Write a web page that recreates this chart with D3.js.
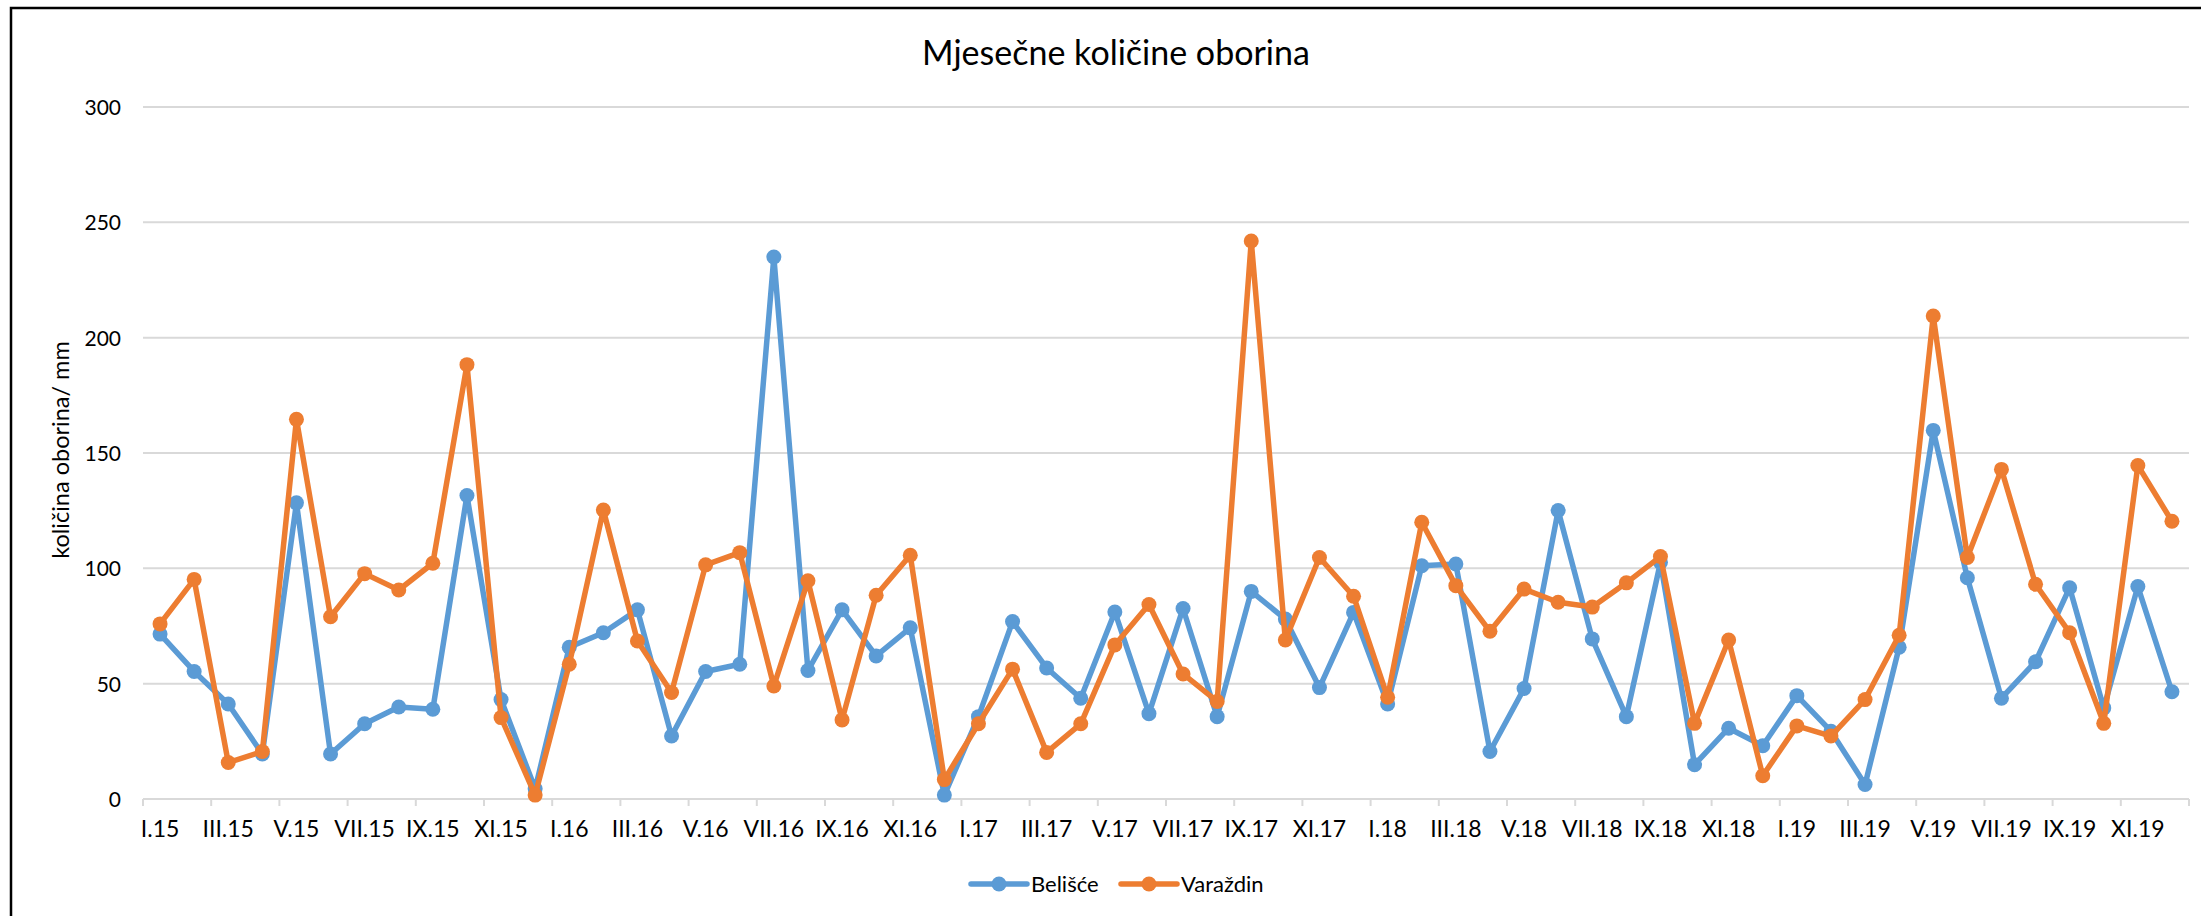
<!DOCTYPE html>
<html>
<head>
<meta charset="utf-8">
<script src="https://cdn.jsdelivr.net/npm/d3@7"></script>
<style>
  body { margin: 0; background: #fff; }
  text { font-family: Lato, "Open Sans", sans-serif; fill: #000; }
</style>
</head>
<body>
<div id="chart"></div>
<script>
// months I.15 .. XII.19
const romans = ["I", "II", "III", "IV", "V", "VI", "VII", "VIII", "IX", "X", "XI", "XII"];
const years = ["15", "16", "17", "18", "19"];
const months = [];
years.forEach(y => romans.forEach(r => months.push(r + "." + y)));

// monthly precipitation (mm)
const belisce = [
  71.5, 55.3, 41.2, 19.5, 128.4, 19.5, 32.6, 39.9, 38.9, 131.6, 43.1, 4.4,
  65.8, 72.1, 82.0, 27.3, 55.3, 58.4, 235.0, 55.7, 82.0, 62.0, 74.2, 1.7,
  35.7, 76.9, 56.8, 43.7, 81.1, 37.0, 82.6, 35.7, 90.0, 78.0, 48.3, 80.9,
  41.2, 101.1, 101.9, 20.6, 47.9, 125.1, 69.4, 35.7, 102.6, 14.9, 30.7, 23.1,
  44.8, 29.4, 6.3, 65.8, 159.8, 95.9, 43.7, 59.5, 91.6, 39.5, 92.1, 46.5
];
const varazdin = [
  75.9, 95.2, 15.8, 20.6, 164.6, 79.0, 97.7, 90.6, 102.2, 188.3, 35.3, 1.7,
  58.4, 125.3, 68.5, 46.2, 101.5, 106.8, 49.0, 94.6, 34.3, 88.3, 105.7, 8.4,
  32.6, 56.3, 20.2, 32.6, 66.8, 84.3, 54.2, 42.3, 241.9, 68.9, 104.7, 87.9,
  44.1, 120.0, 92.5, 72.7, 91.0, 85.3, 83.2, 93.7, 105.1, 32.8, 68.9, 10.1,
  31.7, 27.3, 43.1, 71.0, 209.4, 104.7, 142.9, 93.1, 72.1, 32.8, 144.6, 120.4
];
const yTicks = [0, 50, 100, 150, 200, 250, 300];
const seriesNames = ["Belišće", "Varaždin"];
const seriesColors = ["#5B9BD5", "#ED7D31"];

const series = [belisce, varazdin].map((vals, k) => ({
  name: seriesNames[k],
  color: seriesColors[k],
  values: vals.map((v, i) => ({ m: months[i], v: v }))
}));

const width = 2201, height = 916;
const svg = d3.select("#chart").append("svg")
  .attr("width", width)
  .attr("height", height);

// chart frame (only left and top visible in the picture)
svg.append("rect")
  .attr("x", 11).attr("y", 8)
  .attr("width", width + 20).attr("height", height + 20)
  .attr("fill", "none")
  .attr("stroke", "#000")
  .attr("stroke-width", 2.5);

const plotLeft = 143, plotRight = 2189, plotTop = 107, plotBottom = 799;

const x = d3.scaleBand().domain(months).range([plotLeft, plotRight]).padding(0);
const y = d3.scaleLinear().domain([0, 300]).range([plotBottom, plotTop]);
const cx = m => x(m) + x.bandwidth() / 2;

// gridlines
svg.append("g")
  .selectAll("line")
  .data(yTicks)
  .enter()
  .append("line")
  .attr("x1", plotLeft).attr("x2", plotRight)
  .attr("y1", d => y(d)).attr("y2", d => y(d))
  .attr("stroke", "#D9D9D9")
  .attr("stroke-width", 2);

// y axis labels
const yAxis = d3.axisLeft(y).tickValues(yTicks).tickSize(0).tickPadding(0);
svg.append("g")
  .attr("transform", `translate(${plotLeft - 22},0)`)
  .call(yAxis)
  .call(g => g.select(".domain").remove())
  .call(g => g.selectAll("text")
    .attr("font-size", "21px")
    .attr("font-family", "Lato, sans-serif")
    .attr("fill", "#000")
    .attr("dy", "0.35em"));

// x axis: label every 2nd month, tick marks at group boundaries
const labelMonths = months.filter((m, i) => i % 2 === 0);
const xAxis = d3.axisBottom(x).tickValues(labelMonths).tickSize(0).tickPadding(0);
svg.append("g")
  .attr("transform", `translate(0,${plotBottom})`)
  .call(xAxis)
  .call(g => g.select(".domain").remove())
  .call(g => g.selectAll("text")
    .attr("font-size", "23px")
    .attr("font-family", "Lato, sans-serif")
    .attr("fill", "#000")
    .attr("y", 38)
    .attr("dy", 0));

const tickPos = labelMonths.map(m => x(m)).concat([plotRight]);
svg.append("g")
  .selectAll("line")
  .data(tickPos)
  .enter()
  .append("line")
  .attr("x1", d => d).attr("x2", d => d)
  .attr("y1", plotBottom).attr("y2", plotBottom + 7)
  .attr("stroke", "#D9D9D9")
  .attr("stroke-width", 2);

// lines + markers
const line = d3.line()
  .x(d => cx(d.m))
  .y(d => y(d.v));

const sg = svg.append("g").selectAll("g.series")
  .data(series)
  .enter()
  .append("g")
  .attr("class", "series");

sg.append("path")
  .attr("d", d => line(d.values))
  .attr("fill", "none")
  .attr("stroke", d => d.color)
  .attr("stroke-width", 5.5)
  .attr("stroke-linejoin", "round");

sg.each(function (s) {
  d3.select(this).selectAll("circle")
    .data(s.values)
    .enter()
    .append("circle")
    .attr("cx", d => cx(d.m))
    .attr("cy", d => y(d.v))
    .attr("r", 7.5)
    .attr("fill", s.color);
});

// title
svg.append("text")
  .attr("x", 1116)
  .attr("y", 65)
  .attr("text-anchor", "middle")
  .attr("font-size", "34px")
  .text("Mjesečne količine oborina");

// y axis title
svg.append("text")
  .attr("transform", "translate(69,450) rotate(-90)")
  .attr("text-anchor", "middle")
  .attr("font-size", "23.5px")
  .text("količina oborina/ mm");

// legend
const legendX = [971, 1121];
const legend = svg.append("g").selectAll("g")
  .data(series)
  .enter()
  .append("g")
  .attr("transform", (d, i) => `translate(${legendX[i]},884)`);

legend.append("line")
  .attr("x1", 0).attr("x2", 56)
  .attr("y1", 0).attr("y2", 0)
  .attr("stroke", d => d.color)
  .attr("stroke-width", 5.5)
  .attr("stroke-linecap", "round");

legend.append("circle")
  .attr("cx", 28).attr("cy", 0).attr("r", 7.5)
  .attr("fill", d => d.color);

legend.append("text")
  .attr("x", 60)
  .attr("y", 0)
  .attr("dy", "0.35em")
  .attr("font-size", "22px")
  .text(d => d.name);
</script>
</body>
</html>
